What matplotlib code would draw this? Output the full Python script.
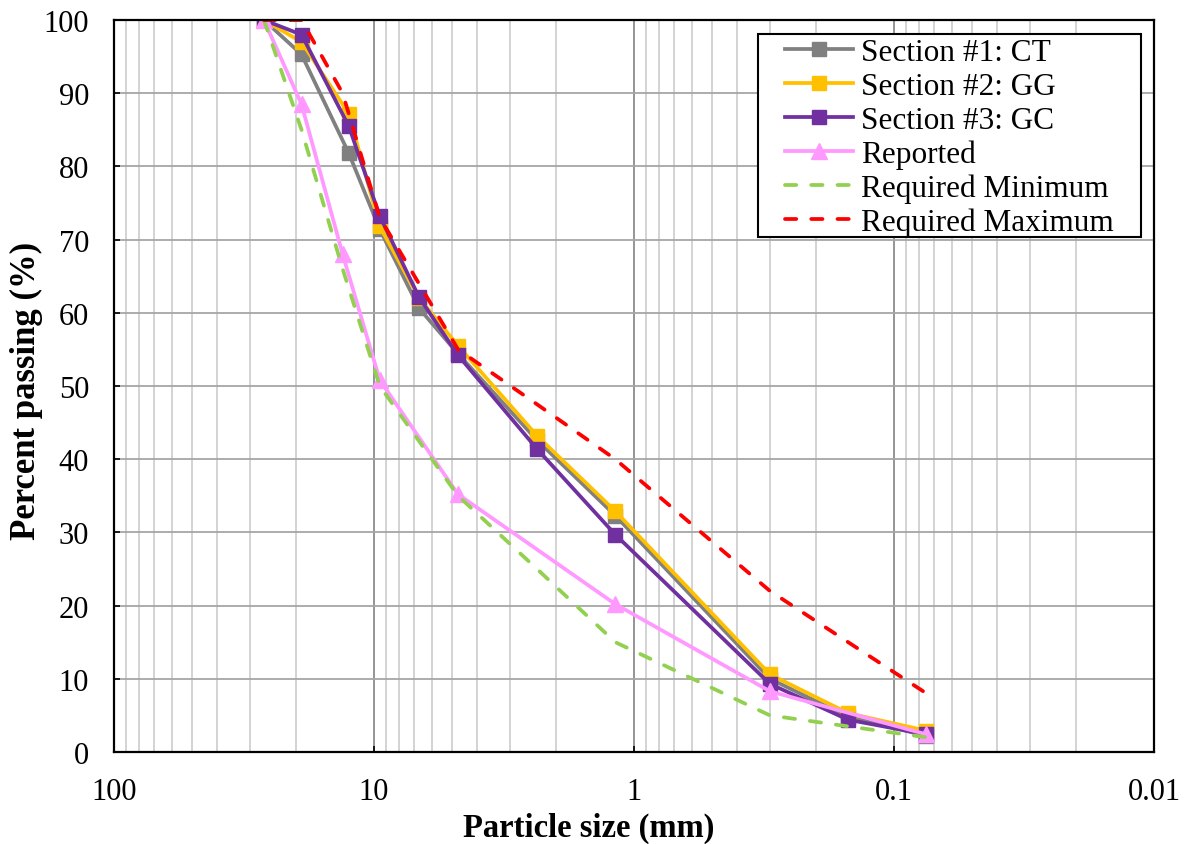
import matplotlib
matplotlib.use("Agg")
import matplotlib.pyplot as plt
from matplotlib.patches import Rectangle
from matplotlib.ticker import FixedLocator, FuncFormatter, LogLocator, NullFormatter

plt.rcParams['font.family'] = ['Liberation Serif', 'DejaVu Serif']
plt.rcParams['font.size'] = 22

# sieve sizes (mm)
sieves = [26.5, 19, 12.5, 9.5, 6.7, 4.75, 2.36, 1.18, 0.3, 0.15, 0.075]
ct = [100, 95.3, 81.8, 71.4, 60.6, 54.4, 42.6, 32.3, 10.0, 4.8, 2.2]
gg = [100, 97.0, 87.2, 71.8, 62.0, 55.5, 43.2, 32.9, 10.6, 5.3, 2.9]
gc = [100, 98.0, 85.5, 73.2, 62.1, 54.2, 41.4, 29.7, 9.3, 4.4, 2.4]

rep_sieves = [26.5, 19, 13.2, 9.5, 4.75, 1.18, 0.3, 0.075]
reported = [100, 88.5, 68, 50.8, 35.2, 20.2, 8.3, 2.4]

spec_sieves = [26.5, 19, 13.2, 9.5, 4.75, 2.36, 1.18, 0.3, 0.15, 0.075]
req_min = [100, 85, 66, 50, 35, 25, 15, 5, 3.5, 2]
req_max = [100, 100, 90, 73, 55, 47.5, 40, 22, 15, 8]

fig = plt.figure(figsize=(11.9, 8.45), dpi=100)
ax = fig.add_axes([0.0958, 0.1089, 0.8739, 0.8662])

ax.set_xscale('log')
ax.set_xlim(100, 0.01)
ax.set_ylim(0, 100)

# grid
ax.xaxis.set_major_locator(FixedLocator([100, 10, 1, 0.1, 0.01]))
ax.xaxis.set_major_formatter(FuncFormatter(lambda v, p: f'{v:g}'))
ax.xaxis.set_minor_locator(LogLocator(base=10, subs=range(2, 10), numticks=50))
ax.xaxis.set_minor_formatter(NullFormatter())
ax.set_yticks(range(0, 101, 10))
ax.grid(which='major', axis='y', color='#a6a6a6', linewidth=1.3)
ax.grid(which='major', axis='x', color='#8c8c8c', linewidth=1.3)
ax.grid(which='minor', axis='x', color='#cccccc', linewidth=1.2)
ax.set_axisbelow(True)

ax.tick_params(which='major', direction='in', length=4, width=1.2, pad=18, color='black')
ax.tick_params(which='minor', length=0)
for s in ax.spines.values():
    s.set_linewidth(1.6)
    s.set_color('black')

lw = 2.7
ax.plot(sieves, ct, color='#808080', lw=lw, marker='s', ms=10, label='Section #1: CT')
ax.plot(sieves, gg, color='#FFC000', lw=lw, marker='s', ms=10, label='Section #2: GG')
ax.plot(sieves, gc, color='#7030A0', lw=lw, marker='s', ms=10, label='Section #3: GC')
ax.plot(rep_sieves, reported, color='#FF99FF', lw=lw, marker='^', ms=12, label='Reported')
ax.plot(spec_sieves, req_min, color='#92D050', lw=lw, ls=(0, (3, 4)),
        dash_capstyle='round', label='Required Minimum')
ax.plot(spec_sieves, req_max, color='#FF0000', lw=lw, ls=(0, (3, 4)),
        dash_capstyle='round', label='Required Maximum')

ax.set_xlabel('Particle size (mm)', fontweight='bold', fontsize=23.5)
ax.xaxis.set_label_coords(0.456, -0.082)
ax.set_ylabel('Percent passing (%)', fontweight='bold', fontsize=25)
ax.yaxis.set_label_coords(-0.068, 0.495)

# legend with an Excel-like frame (wider side padding than top/bottom)
leg = ax.legend(loc='upper left', bbox_to_anchor=(0.645, 0.975), fontsize=22.5,
                handlelength=2.18, handletextpad=0.26, labelspacing=0.15,
                borderpad=0, borderaxespad=0, frameon=False)
ax.add_patch(Rectangle((0.619, 0.7036), 0.369, 0.2774, transform=ax.transAxes,
                       facecolor='white', edgecolor='black', lw=1.5, zorder=4.9))
leg.set_zorder(5)

fig.savefig('out.png', dpi=100)
